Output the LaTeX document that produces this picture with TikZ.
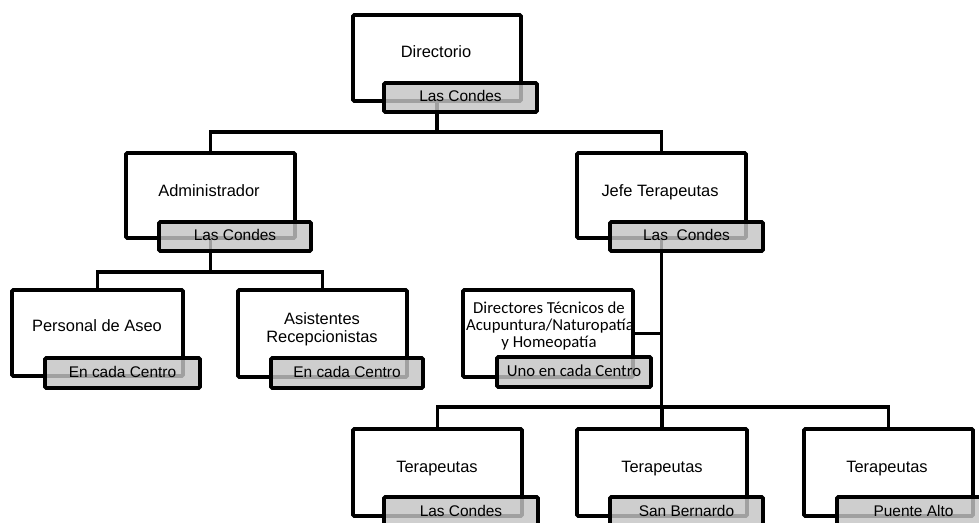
\documentclass[tikz,border=0pt]{standalone}
\usepackage{fontspec}
\setmainfont{Liberation Sans}
\newfontfamily\calibrifont{Carlito}
\definecolor{tagfill}{HTML}{C4C4C4}
\begin{document}
\begin{tikzpicture}[x=1bp,y=-1bp,
  box/.style={draw, line width=3.6bp, rounded corners=1.2bp, fill=white,
    anchor=north west, inner sep=0pt, outer sep=0pt},
  tag/.style={draw, line width=3.6bp, rounded corners=1.2bp, fill=tagfill,
    fill opacity=0.82, text opacity=1, anchor=north west, inner sep=0pt,
    outer sep=0pt, minimum width=153bp, minimum height=29bp,
    font=\fontsize{15.5}{17}\selectfont, text height=9bp, text depth=0pt},
  caption/.style={anchor=base, inner sep=0pt, font=\fontsize{16.5}{17}\selectfont},
  narrowcap/.style={caption, font=\calibrifont\fontsize{16.8}{17}\selectfont},
  link/.style={line width=3.6bp}]
\clip (0,0) rectangle (979,523);
\useasboundingbox (0,0) rectangle (979,523);

% ---- boxes ----
\node[box, minimum width=168bp, minimum height=86bp] (dir)  at (353,15)  {};
\node[box, minimum width=169bp, minimum height=85bp] (adm)  at (126,153) {};
\node[box, minimum width=169bp, minimum height=85bp] (jefe) at (577,153) {};
\node[box, minimum width=171bp, minimum height=86bp] (pers) at (12,290)  {};
\node[box, minimum width=169bp, minimum height=87bp] (asis) at (238,290) {};
\node[box, minimum width=170bp, minimum height=87bp] (dirt) at (463,290) {};
\node[box, minimum width=169bp, minimum height=87bp] (ter1) at (353,429) {};
\node[box, minimum width=170bp, minimum height=87bp] (ter2) at (577,429) {};
\node[box, minimum width=169bp, minimum height=87bp] (ter3) at (804,429) {};

% ---- connectors ----
\coordinate (busA) at (0,132);
\coordinate (busB) at (0,272);
\coordinate (busC) at (0,407);
\draw[link] (dir.south) -- (dir.south |- busA);
\draw[link] (adm.north) |- (jefe.north |- busA) -- (jefe.north);
\draw[link] (adm.south) -- (adm.south |- busB);
\draw[link] (pers.north) |- (asis.north |- busB) -- (asis.north);
\draw[link] (jefe.south) -- (jefe.south |- busC);
\draw[link] (dirt.east) -- (dirt.east -| jefe.south);
\draw[link] (ter1.north) |- (ter3.north |- busC) -- (ter3.north);
\draw[link] (ter2.north) -- (ter2.north |- busC);

% ---- captions ----
\node[caption] (tdir)  at (436,58)  {Directorio};
\node[caption] (tadm)  at (209,197) {Administrador};
\node[caption] (tjefe) at (660,197) {Jefe Terapeutas};
\node[caption] (tpers) at (97,332)  {Personal de Aseo};
\node[caption] (tasis1) at (322,325) {Asistentes};
\node[caption] (tasis2) at (322,343) {Recepcionistas};
\node[narrowcap] (tdirt1) at (549,314) {Directores Técnicos de};
\node[narrowcap] (tdirt2) at (550,331) {Acupuntura/Naturopatía};
\node[narrowcap] (tdirt3) at (549,348) {y Homeopatía};
\node[caption] (tter1) at (437,472) {Terapeutas};
\node[caption] (tter2) at (662,472) {Terapeutas};
\node[caption] (tter3) at (887,472) {Terapeutas};

% ---- location tags ----
\node[tag] (gdir)  at (384,83)  {Las Condes};
\node[tag, minimum width=152bp] (gadm)  at (159,222) {Las Condes};
\node[tag] (gjefe) at (610,222) {Las\ \ Condes};
\node[tag, minimum width=155bp, minimum height=30bp] (gpers) at (45,358) {En cada Centro};
\node[tag, minimum width=152bp, minimum height=30bp] (gasis) at (271,358) {En cada Centro};
\node[tag, minimum width=154bp, minimum height=30bp,
  font=\calibrifont\fontsize{16.8}{17}\selectfont] (gdirt) at (497,357) {Uno en cada Centro};
\node[tag, minimum width=154bp] (gter1) at (384,497) {Las Condes};
\node[tag] (gter2) at (610,497) {San Bernardo};
\node[tag] (gter3) at (837,497) {Puente Alto};
\end{tikzpicture}
\end{document}
